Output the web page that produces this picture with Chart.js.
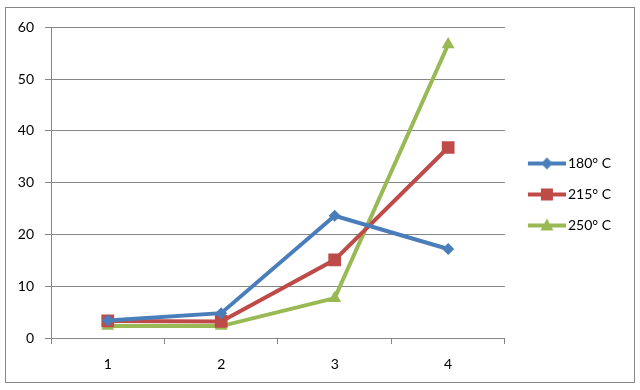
<!DOCTYPE html>
<html>
<head>
<meta charset="utf-8">
<script src="https://cdn.jsdelivr.net/npm/chart.js@4"></script>
<style>
    html, body { margin: 0; padding: 0; background: #fff; }
    #box { position: absolute; left: 5px; top: 7px; width: 628px; height: 374px; border: 1px solid #868686; }
</style>
</head>
<body>
<div id="box"><canvas id="chart" width="628" height="374"></canvas></div>
<script>
// Chart data
const categories = ['1', '2', '3', '4'];
const seriesNames = ['180° C', '215° C', '250° C'];
const values180 = [3.4, 4.8, 23.6, 17.2];
const values215 = [3.3, 3.2, 15.1, 36.8];
const values250 = [2.3, 2.3, 7.7, 56.7];
const yTicks = { min: 0, max: 60, step: 10 };

const blue = '#4A7EBB';
const red = '#BE4B48';
const green = '#98B954';
const gridColor = '#868686';

// Legend icon: a short line with the marker in the middle
// (blank space on the left pushes the line away from the plot)
function makeIcon(color, shape) {
    const c = document.createElement('canvas');
    c.width = 49;
    c.height = 16;
    const ctx = c.getContext('2d');
    ctx.strokeStyle = color;
    ctx.fillStyle = color;
    ctx.lineWidth = 4;
    ctx.beginPath();
    ctx.moveTo(11, 8);
    ctx.lineTo(49, 8);
    ctx.stroke();
    const m = 30;
    ctx.beginPath();
    if (shape === 'diamond') {
        ctx.moveTo(m, 2); ctx.lineTo(m + 6, 8); ctx.lineTo(m, 14); ctx.lineTo(m - 6, 8);
    } else if (shape === 'square') {
        ctx.rect(m - 6, 2, 12, 12);
    } else {
        ctx.moveTo(m, 1); ctx.lineTo(m + 6.5, 13); ctx.lineTo(m - 6.5, 13);
    }
    ctx.closePath();
    ctx.fill();
    return c;
}
const icons = [makeIcon(blue, 'diamond'), makeIcon(red, 'square'), makeIcon(green, 'triangle')];

function series(label, data, color, pointStyle, radius) {
    return {
        label: label,
        data: data,
        borderColor: color,
        backgroundColor: color,
        borderWidth: 4,
        pointStyle: pointStyle,
        pointRadius: radius,
        pointHoverRadius: radius,
        pointBorderWidth: 0,
        tension: 0
    };
}

// The legend is centred on the whole box height, not below the top padding
const legendNudge = {
    id: 'legendNudge',
    afterLayout(chart) {
        chart.legend.top -= 9;
        chart.legend.bottom -= 9;
    }
};

const ctx = document.getElementById('chart').getContext('2d');
const chart = new Chart(ctx, {
    type: 'line',
    data: {
        labels: categories,
        datasets: [
            series(seriesNames[0], values180, blue, 'rectRot', 6),
            series(seriesNames[1], values215, red, 'rect', 9),
            series(seriesNames[2], values250, green, 'triangle', 7.5)
        ]
    },
    plugins: [legendNudge],
    options: {
        responsive: false,
        animation: false,
        layout: { padding: { top: 17, left: 0, right: 13, bottom: 0 } },
        font: { family: 'Lato', size: 14 },
        plugins: {
            tooltip: { enabled: false },
            legend: {
                position: 'right',
                align: 'center',
                labels: {
                    color: '#000',
                    font: { family: 'Lato', size: 14 },
                    usePointStyle: true,
                    pointStyleWidth: 39,
                    padding: 17,
                    generateLabels: function (chart) {
                        return chart.data.datasets.map((ds, i) => ({
                            text: ds.label,
                            pointStyle: icons[i],
                            fillStyle: ds.borderColor,
                            strokeStyle: ds.borderColor,
                            lineWidth: 0,
                            hidden: false,
                            datasetIndex: i
                        }));
                    }
                }
            }
        },
        scales: {
            x: {
                offset: true,
                grid: { offset: true, drawOnChartArea: false, drawTicks: true, tickLength: 6, color: gridColor },
                border: { display: true, color: gridColor, width: 1 },
                ticks: { color: '#000', padding: 12, font: { family: 'Lato', size: 14 } },
                afterFit: function (scale) { scale.height = 44; }
            },
            y: {
                min: yTicks.min,
                max: yTicks.max,
                grid: { color: gridColor, tickLength: 6 },
                border: { display: true, color: gridColor, width: 1 },
                ticks: { stepSize: yTicks.step, color: '#000', padding: 11, font: { family: 'Lato', size: 14 } },
                afterFit: function (scale) { scale.width = 45; }
            }
        }
    }
});
</script>
</body>
</html>
